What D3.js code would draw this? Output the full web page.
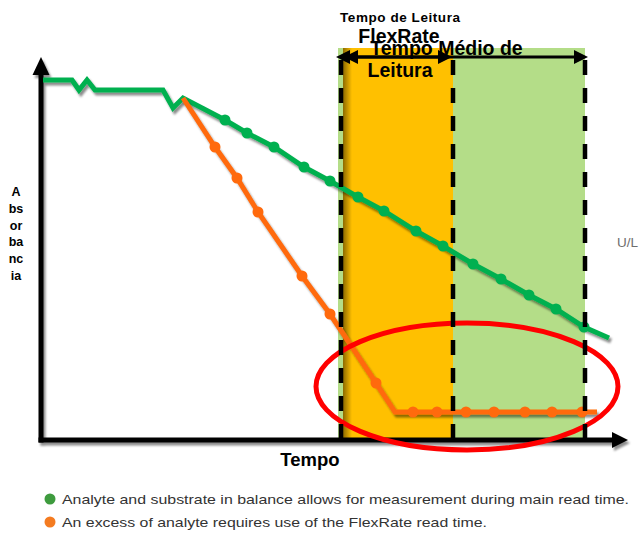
<!DOCTYPE html>
<html>
<head>
<meta charset="utf-8">
<script src="https://cdn.jsdelivr.net/npm/d3@7"></script>
<style>
  html, body { margin: 0; padding: 0; background: #fff; }
  svg { display: block; font-family: "Liberation Sans", Arial, sans-serif; }
</style>
</head>
<body>
<svg id="chart" width="639" height="533"></svg>
<script>
// ---- data (time units vs absorbance units, arbitrary) ----
const greenTime = [2, 31, 38, 46, 54, 122, 132, 142, 184, 206, 233, 263, 289, 317, 343, 375, 402, 432, 460, 488, 515, 543, 568];
const greenAbs  = [360, 360, 350, 360, 350, 350, 332, 342, 320, 307, 293, 273, 259, 243, 229, 209, 194, 176, 161, 145, 131, 113, 102];
const greenMarker = [0, 0, 0, 0, 0, 0, 0, 0, 1, 1, 1, 1, 1, 1, 1, 1, 1, 1, 1, 1, 1, 1, 0];

const orangeTime = [142, 174, 196, 217, 261, 289, 335, 354, 372, 396, 425, 453, 484, 511, 541, 556];
const orangeAbs  = [342, 293, 262, 228, 164, 126, 57, 28, 28, 28, 28, 28, 28, 28, 28, 28];
const orangeMarker = [0, 1, 1, 1, 1, 1, 1, 0, 1, 1, 1, 1, 1, 1, 1, 0];

// read windows (time units)
const windowStart = 300;
const flexRateEnd = 412;
const mainReadEnd = 544;
const windowTop = 392;

const legendLabels = [
  "Analyte and substrate in balance allows for measurement during main read time.",
  "An excess of analyte requires use of the FlexRate read time."
];
const yLabelLines = ["A", "bs", "or", "ba", "nc", "ia"];

const colGreen = "#00B050", colOrange = "#FF6A0D";
const colFlex = "#FFC000", colMain = "#B4DD88";

// ---- scales ----
const x = d3.scaleLinear().domain([0, 600]).range([41, 641]);
const y = d3.scaleLinear().domain([0, 400]).range([440, 40]);

const svg = d3.select("#chart");
const defs = svg.append("defs");
const f = defs.append("filter").attr("id", "sh").attr("filterUnits", "userSpaceOnUse")
  .attr("x", 0).attr("y", 0).attr("width", 639).attr("height", 533);
f.append("feDropShadow").attr("dx", 2).attr("dy", 3).attr("stdDeviation", 0.8)
  .attr("flood-color", "#000").attr("flood-opacity", 0.45);
const g1 = defs.append("linearGradient").attr("id", "edge").attr("x1", 0).attr("x2", 1).attr("y1", 0).attr("y2", 0);
g1.append("stop").attr("offset", 0).attr("stop-color", "#000").attr("stop-opacity", 0.45);
g1.append("stop").attr("offset", 1).attr("stop-color", "#000").attr("stop-opacity", 0);

// ---- read windows ----
svg.append("rect").attr("x", x(windowStart) - 3).attr("y", y(windowTop))
  .attr("width", x(mainReadEnd) - x(windowStart) + 3).attr("height", y(0) - y(windowTop))
  .attr("fill", colMain);
svg.append("rect").attr("x", x(windowStart) + 2).attr("y", y(windowTop))
  .attr("width", x(flexRateEnd) - x(windowStart) - 2).attr("height", y(0) - y(windowTop))
  .attr("fill", colFlex);
svg.append("rect").attr("x", x(windowStart) + 2).attr("y", y(windowTop))
  .attr("width", 9).attr("height", y(0) - y(windowTop))
  .attr("fill", "url(#edge)");

// ---- axes (arrows) ----
const axes = svg.append("g").attr("filter", "url(#sh)");
axes.append("line").attr("x1", x(0)).attr("x2", x(0)).attr("y1", y(0) + 2.5).attr("y2", y(372))
  .attr("stroke", "#000").attr("stroke-width", 5);
axes.append("path").attr("d", `M${x(0)},${y(383)} L${x(0) - 8.5},${y(365)} L${x(0) + 8.5},${y(365)} Z`).attr("fill", "#000");
axes.append("line").attr("x1", x(-2.5)).attr("x2", x(575)).attr("y1", y(0)).attr("y2", y(0))
  .attr("stroke", "#000").attr("stroke-width", 5);
axes.append("path").attr("d", `M${x(587)},${y(0)} L${x(571)},${y(0) - 8} L${x(571)},${y(0) + 8} Z`).attr("fill", "#000");

// ---- series ----
function series(tx, ab, mk, col, endCap) {
  const pts = tx.map((t, i) => [t, ab[i], mk[i]]);
  const line = d3.line().x(d => x(d[0])).y(d => y(d[1]));
  svg.append("path").datum(pts).attr("d", line).attr("fill", "none")
    .attr("stroke", col).attr("stroke-width", 5).attr("stroke-linejoin", "miter")
    .attr("filter", "url(#sh)");
  svg.append("g").selectAll("circle").data(pts.filter(d => d[2])).join("circle")
    .attr("cx", d => x(d[0])).attr("cy", d => y(d[1])).attr("r", 5.5).attr("fill", col);
}
series(greenTime, greenAbs, greenMarker, colGreen);
series(orangeTime, orangeAbs, orangeMarker, colOrange);

// ---- red highlight ellipse ----
svg.append("ellipse").attr("cx", x(426)).attr("cy", y(53.5)).attr("rx", 151).attr("ry", 63.5)
  .attr("fill", "none").attr("stroke", "#FF0000").attr("stroke-width", 5);

// ---- dashed window borders ----
[windowStart, flexRateEnd, mainReadEnd].forEach(t => {
  svg.append("line").attr("x1", x(t)).attr("x2", x(t)).attr("y1", y(windowTop)).attr("y2", y(0))
    .attr("stroke", "#000").attr("stroke-width", 4.5)
    .attr("stroke-dasharray", "15,13").attr("stroke-dashoffset", 16);
});

// ---- window arrows ----
function dblArrow(t0, t1, ab) {
  const yy = y(ab);
  svg.append("line").attr("x1", x(t0) + 4).attr("x2", x(t1) - 4).attr("y1", yy).attr("y2", yy)
    .attr("stroke", "#000").attr("stroke-width", 3);
  svg.append("path").attr("d", `M${x(t0) - 5},${yy} L${x(t0) + 9},${yy - 7} L${x(t0) + 9},${yy + 7} Z`).attr("fill", "#000");
  svg.append("path").attr("d", `M${x(t1) + 1},${yy} L${x(t1) - 13},${yy - 7} L${x(t1) - 13},${yy + 7} Z`).attr("fill", "#000");
}
dblArrow(windowStart, flexRateEnd - 2, 383);
dblArrow(windowStart + 8, mainReadEnd + 2, 383);

// ---- texts ----
svg.append("text").attr("x", 400).attr("y", 21.5).attr("text-anchor", "middle")
  .attr("font-weight", "bold").attr("font-size", 13.5).attr("textLength", 120).text("Tempo de Leitura");
svg.append("text").attr("x", 399).attr("y", 43).attr("text-anchor", "middle")
  .attr("font-weight", "bold").attr("font-size", 19.5).text("FlexRate");
svg.append("text").attr("x", 400).attr("y", 77).attr("text-anchor", "middle")
  .attr("font-weight", "bold").attr("font-size", 19.5).text("Leitura");
svg.append("text").attr("x", 446.5).attr("y", 54.5).attr("text-anchor", "middle")
  .attr("font-weight", "bold").attr("font-size", 19.5).text("Tempo Médio de");

svg.append("text").attr("x", 310).attr("y", 466).attr("text-anchor", "middle")
  .attr("font-weight", "bold").attr("font-size", 18.5).text("Tempo");

svg.append("g").selectAll("text").data(yLabelLines).join("text")
  .attr("x", 16).attr("y", (d, i) => 196 + i * 16.8).attr("text-anchor", "middle")
  .attr("font-weight", "bold").attr("font-size", 12.5).text(d => d);

svg.append("text").attr("x", 617).attr("y", 247).attr("font-size", 13.5)
  .attr("fill", "#6e6e6e").text("U/L");

// ---- legend ----
const legCols = ["#3E9B3E", "#F47B20"];
const legW = [567, 425];
const leg = svg.append("g").selectAll("g").data(legendLabels).join("g")
  .attr("transform", (d, i) => `translate(50,${499 + i * 23})`);
leg.append("circle").attr("r", 5.5).attr("fill", (d, i) => legCols[i]);
leg.append("text").attr("x", 12).attr("y", 5).attr("font-size", 13.5).attr("fill", "#333")
  .attr("textLength", (d, i) => legW[i]).attr("lengthAdjust", "spacingAndGlyphs").text(d => d);
</script>
</body>
</html>
